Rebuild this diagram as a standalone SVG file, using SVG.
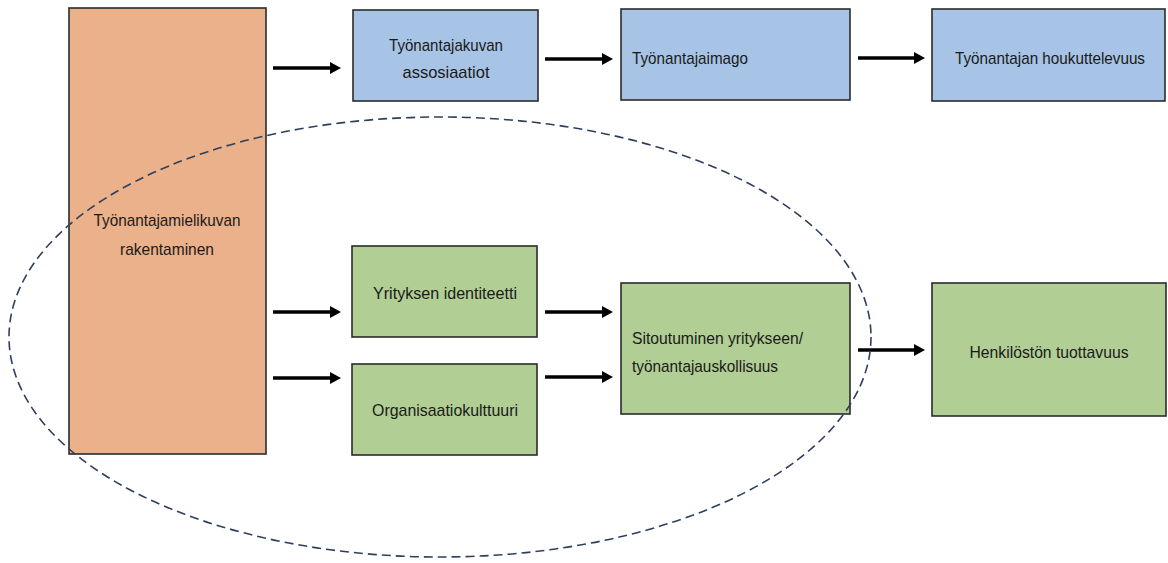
<svg xmlns="http://www.w3.org/2000/svg" width="1168" height="563" viewBox="0 0 1168 563">
<style>
.box{stroke:#2b2b2b;stroke-width:1.6}
.orange{fill:#EBB18A}
.blue{fill:#A7C3E5}
.green{fill:#B1CE94}
.t{font-family:"Liberation Sans",Arial,sans-serif;font-size:17px;fill:#1a1a1a}
.c{text-anchor:middle}
.arr{stroke:#000;stroke-width:3.5;fill:none;marker-end:url(#ah)}
</style>
<defs>
<marker id="ah" markerUnits="userSpaceOnUse" markerWidth="12" markerHeight="13" refX="0" refY="6.5" orient="auto" viewBox="0 0 12 13">
<path d="M0,0.5 L11,6.5 L0,12.5 Z" fill="#000"/>
</marker>
</defs>
<rect width="1168" height="563" fill="#fff"/>
<g id="n-rakentaminen">
<rect class="box orange" x="69" y="8" width="197" height="446"/>
<text class="t c" x="167" y="226" textLength="147" lengthAdjust="spacingAndGlyphs">Työnantajamielikuvan</text>
<text class="t c" x="167" y="255" textLength="94" lengthAdjust="spacingAndGlyphs">rakentaminen</text>
</g>
<g id="n-assosiaatiot">
<rect class="box blue" x="353" y="10" width="185" height="91"/>
<text class="t c" x="446" y="51" textLength="114" lengthAdjust="spacingAndGlyphs">Työnantajakuvan</text>
<text class="t c" x="446" y="78" textLength="87" lengthAdjust="spacingAndGlyphs">assosiaatiot</text>
</g>
<g id="n-imago">
<rect class="box blue" x="621" y="9" width="229" height="91"/>
<text class="t" x="632" y="64" textLength="116" lengthAdjust="spacingAndGlyphs">Työnantajaimago</text>
</g>
<g id="n-houkuttelevuus">
<rect class="box blue" x="932" y="9" width="233" height="92"/>
<text class="t c" x="1050" y="64" textLength="190" lengthAdjust="spacingAndGlyphs">Työnantajan houkuttelevuus</text>
</g>
<g id="n-identiteetti">
<rect class="box green" x="352" y="246" width="185" height="91"/>
<text class="t c" x="445" y="299" textLength="144" lengthAdjust="spacingAndGlyphs">Yrityksen identiteetti</text>
</g>
<g id="n-kulttuuri">
<rect class="box green" x="352" y="364" width="185" height="91"/>
<text class="t c" x="445" y="416" textLength="146" lengthAdjust="spacingAndGlyphs">Organisaatiokulttuuri</text>
</g>
<g id="n-sitoutuminen">
<rect class="box green" x="621" y="283" width="229" height="131"/>
<text class="t" x="632" y="344" textLength="171" lengthAdjust="spacingAndGlyphs">Sitoutuminen yritykseen/</text>
<text class="t" x="632" y="372" textLength="146" lengthAdjust="spacingAndGlyphs">työnantajauskollisuus</text>
</g>
<g id="n-tuottavuus">
<rect class="box green" x="932" y="283" width="234" height="133"/>
<text class="t c" x="1049" y="358" textLength="159" lengthAdjust="spacingAndGlyphs">Henkilöstön tuottavuus</text>
</g>
<g id="connectors">
<path class="arr" d="M273,68 H330"/>
<path class="arr" d="M545,59 H602"/>
<path class="arr" d="M858,58 H914"/>
<path class="arr" d="M273,312 H330"/>
<path class="arr" d="M273,378 H330"/>
<path class="arr" d="M545,312 H602"/>
<path class="arr" d="M545,377 H602"/>
<path class="arr" d="M858,350 H914"/>
</g>
<g id="boundary">
<ellipse cx="440" cy="337" rx="431" ry="220" fill="none" stroke="#2E3F5E" stroke-width="1.6" stroke-dasharray="9 5"/>
</g>
</svg>
